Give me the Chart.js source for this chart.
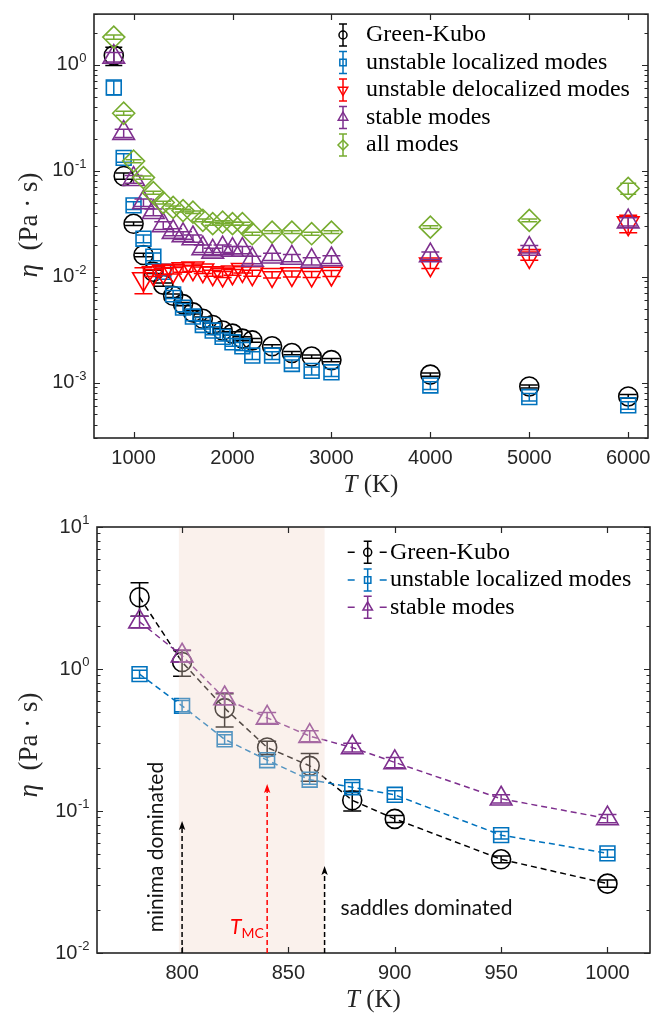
<!DOCTYPE html>
<html>
<head>
<meta charset="utf-8">
<script src="https://cdn.jsdelivr.net/npm/chart.js@4.4.1/dist/chart.umd.min.js"></script>
<style>
  html, body { margin: 0; padding: 0; background: #ffffff; }
  #page { position: relative; width: 667px; height: 1017px; overflow: hidden; }
  #c1 { position: absolute; left: 0; top: 0; }
  #c2 { position: absolute; left: 0; top: 500px; }
</style>
</head>
<body>
<div id="page">
  <canvas id="c1" width="667" height="500"></canvas>
  <canvas id="c2" width="667" height="517"></canvas>
</div>
<script>
// ---------- upper panel: viscosity vs temperature, 800 K – 6000 K ----------
const tempTop = [800, 900, 1000, 1100, 1200, 1300, 1400, 1500, 1600, 1700, 1800,
                 1900, 2000, 2100, 2200, 2400, 2600, 2800, 3000, 4000, 5000, 6000];

const etaGK  = [1.22, 0.089, 0.0315, 0.0160, 0.0111, 0.0084, 0.0066, 0.0055, 0.0046, 0.0040, 0.0035,
                0.0031, 0.0029, 0.0026, 0.0025, 0.0022, 0.0019, 0.00176, 0.00163, 0.00119, 0.00092, 0.00074];
const errGK  = [0.24, 0.006, 0.0012, 0.0006, 0.0004, 0.0003, 0.00025, 0.0002, 0.00017, 0.00015, 0.00013,
                0.00012, 0.00011, 0.0001, 0.0001, 0.00008, 0.00007, 0.00006, 0.00006, 0.00004, 0.00003, 0.00003];

const etaULM = [0.61, 0.132, 0.047, 0.0228, 0.0154, 0.0111, 0.0068, 0.0051, 0.0042, 0.0035, 0.0031,
                0.0027, 0.0024, 0.0022, 0.0018, 0.0018, 0.0015, 0.00129, 0.00125, 0.00094, 0.00073, 0.00061];
const errULM = [0.09, 0.012, 0.004, 0.0019, 0.0013, 0.0009, 0.0006, 0.00045, 0.00036, 0.0003, 0.00027,
                0.00023, 0.0002, 0.00019, 0.00015, 0.00015, 0.00013, 0.00011, 0.00011, 0.00008, 0.00006, 0.00005];

const etaUDM = [null, null, null, 0.0095, 0.0108, 0.0112, 0.0114, 0.0118, 0.0120, 0.0115, 0.0108,
                0.0105, 0.0110, 0.0116, 0.0108, 0.0104, 0.0106, 0.0105, 0.0107, 0.0131, 0.0157, 0.0320];
const errUDM = [null, null, null, 0.0026, 0.0008, 0.0008, 0.0008, 0.0008, 0.0008, 0.0008, 0.0007,
                0.0007, 0.0007, 0.0008, 0.0007, 0.0007, 0.0007, 0.0007, 0.0007, 0.0012, 0.0014, 0.0060];

const etaSM  = [1.18, 0.226, 0.083, 0.050, 0.0405, 0.0304, 0.0263, 0.0245, 0.0229, 0.0184, 0.0171,
                0.0184, 0.0178, 0.0178, 0.0144, 0.0154, 0.0150, 0.0140, 0.0145, 0.0158, 0.0182, 0.0330];
const errSM  = [0.12, 0.02, 0.007, 0.004, 0.003, 0.0025, 0.002, 0.002, 0.0018, 0.0015, 0.0014,
                0.0015, 0.0014, 0.0014, 0.0012, 0.0012, 0.0012, 0.0011, 0.0012, 0.0013, 0.0015, 0.0030];

const etaAll = [1.82, 0.348, 0.123, 0.086, 0.062, 0.050, 0.045, 0.042, 0.0405, 0.034, 0.0316,
                0.0326, 0.0316, 0.0316, 0.0254, 0.0263, 0.0263, 0.0254, 0.0263, 0.0293, 0.0339, 0.068];
const errAll = [0.08, 0.015, 0.004, 0.003, 0.002, 0.0015, 0.0013, 0.0012, 0.0012, 0.001, 0.001,
                0.001, 0.001, 0.001, 0.0008, 0.0008, 0.0008, 0.0008, 0.0008, 0.0009, 0.001, 0.008];

const xTicksTop = [1000, 2000, 3000, 4000, 5000, 6000];
const yExpTop = [-3, -2, -1, 0];

// ---------- lower panel: zoom on the crossover region ----------
const tempBot  = [780, 800, 820, 840, 860, 880, 900, 950, 1000];
const gkBot    = [3.2, 1.12, 0.53, 0.28, 0.208, 0.119, 0.088, 0.0457, 0.0308];
const gkBotErr = [0.85, 0.23, 0.14, 0.03, 0.046, 0.019, 0.005, 0.0025, 0.0018];
const ulmBot   = [0.92, 0.55, 0.32, 0.228, 0.166, 0.147, 0.130, 0.0676, 0.0503];
const ulmBotErr= [0.06, 0.05, 0.025, 0.015, 0.012, 0.012, 0.009, 0.004, 0.003];
const smBot    = [2.15, 1.24, 0.62, 0.453, 0.337, 0.28, 0.22, 0.122, 0.0885];
const smBotErr = [0.2, 0.12, 0.06, 0.04, 0.03, 0.02, 0.018, 0.008, 0.006];

const xTicksBot = [800, 850, 900, 950, 1000];
const yExpBot = [-2, -1, 0, 1];

// ---------- styling ----------
const AXIS = '#262626';
const SERIF = '"Liberation Serif", "Times New Roman", serif';
const SANS = '"Liberation Sans", Arial, sans-serif';
const HAND = 'Lato, "Open Sans", sans-serif';
const C_BLACK = '#000000', C_BLUE = '#0072BD', C_RED = '#FF0000', C_PURPLE = '#7E2F8E', C_GREEN = '#77AC30';

function series(label, temps, vals, errs, color, style, radius, rotation, order, cap, line) {
  const data = [];
  temps.forEach((t, i) => { if (vals[i] !== null) data.push({ x: t, y: vals[i], e: errs[i] }); });
  return {
    label, data, order,
    pointStyle: style, pointRadius: radius, pointRotation: rotation,
    pointBorderColor: color, pointBackgroundColor: 'rgba(0,0,0,0)', pointBorderWidth: 1.6,
    borderColor: color, backgroundColor: 'rgba(0,0,0,0)',
    showLine: !!line, borderWidth: 1.5, borderDash: line ? [6, 4] : [],
    capWidth: cap, errColor: color
  };
}

// generic marker for legend samples
function drawMark(ctx, style, x, y, r, rot) {
  ctx.beginPath();
  if (style === 'circle') ctx.arc(x, y, r, 0, Math.PI * 2);
  else if (style === 'rect') { const s = r * Math.SQRT1_2; ctx.rect(x - s, y - s, 2 * s, 2 * s); }
  else if (style === 'rectRot') { ctx.moveTo(x, y - r); ctx.lineTo(x + r, y); ctx.lineTo(x, y + r); ctx.lineTo(x - r, y); ctx.closePath(); }
  else if (style === 'triangle') {
    const d = rot ? -1 : 1;
    ctx.moveTo(x, y - d * r); ctx.lineTo(x + 0.866 * r, y + d * 0.5 * r); ctx.lineTo(x - 0.866 * r, y + d * 0.5 * r); ctx.closePath();
  }
  ctx.stroke();
}

function textRuns(ctx, runs, x, y, align) {
  let total = 0;
  runs.forEach(r => { ctx.font = r[1]; total += ctx.measureText(r[0]).width; });
  let cx = align === 'center' ? x - total / 2 : x;
  ctx.textAlign = 'left';
  runs.forEach(r => {
    ctx.font = r[1];
    ctx.fillText(r[0], cx, y + (r[2] || 0));
    cx += ctx.measureText(r[0]).width;
  });
}

// vertical error bars with caps, drawn right after each dataset
const errorBars = {
  id: 'errorBars',
  afterDatasetDraw(chart, args) {
    const ds = chart.data.datasets[args.index];
    if (!ds.capWidth) return;
    const xs = chart.scales.x, ys = chart.scales.y, ctx = chart.ctx, h = ds.capWidth / 2;
    ctx.save();
    ctx.strokeStyle = ds.errColor; ctx.lineWidth = 1.5; ctx.setLineDash([]);
    ds.data.forEach(p => {
      const px = xs.getPixelForValue(p.x);
      const y1 = ys.getPixelForValue(p.y + p.e);
      const y2 = ys.getPixelForValue(Math.max(p.y - p.e, 1e-9));
      ctx.beginPath();
      ctx.moveTo(px, y1); ctx.lineTo(px, y2);
      ctx.moveTo(px - h, y1); ctx.lineTo(px + h, y1);
      ctx.moveTo(px - h, y2); ctx.lineTo(px + h, y2);
      ctx.stroke();
    });
    ctx.restore();
  }
};

// box, inward ticks on all sides, power-of-ten labels and axis titles
function drawFrame(chart, xTicks, yExps, yTitleY, xTitleY) {
  const ctx = chart.ctx, xs = chart.scales.x, ys = chart.scales.y;
  const { left, right, top, bottom } = chart.chartArea;
  ctx.save();
  ctx.strokeStyle = AXIS; ctx.lineWidth = 1.2; ctx.setLineDash([]);
  ctx.beginPath();
  xTicks.forEach(v => {
    const px = Math.round(xs.getPixelForValue(v)) + 0.5;
    ctx.moveTo(px, bottom); ctx.lineTo(px, bottom - 6);
    ctx.moveTo(px, top); ctx.lineTo(px, top + 6);
  });
  const lo = Math.floor(Math.log10(ys.min)), hi = Math.ceil(Math.log10(ys.max));
  for (let d = lo; d <= hi; d++) {
    for (let k = 1; k <= 9; k++) {
      const v = k * Math.pow(10, d);
      if (v < ys.min * 0.999 || v > ys.max * 1.001) continue;
      const py = Math.round(ys.getPixelForValue(v)) + 0.5;
      const len = k === 1 ? 6 : 3.5;
      ctx.moveTo(left, py); ctx.lineTo(left + len, py);
      ctx.moveTo(right, py); ctx.lineTo(right - len, py);
    }
  }
  ctx.stroke();
  ctx.lineWidth = 1.6;
  ctx.strokeRect(left, top, right - left, bottom - top);

  // y tick labels 10^n
  ctx.fillStyle = AXIS;
  yExps.forEach(n => {
    const py = ys.getPixelForValue(Math.pow(10, n));
    const exp = String(n);
    ctx.font = '13px ' + SANS;
    const we = ctx.measureText(exp).width;
    const xr = left - 8 - we;
    ctx.font = '20px ' + SANS; ctx.textAlign = 'right'; ctx.textBaseline = 'middle';
    ctx.fillText('10', xr, py);
    ctx.font = '13px ' + SANS; ctx.textAlign = 'left'; ctx.textBaseline = 'alphabetic';
    ctx.fillText(exp, xr + 0.5, py - 3);
  });

  // axis titles
  ctx.fillStyle = AXIS; ctx.textBaseline = 'middle';
  textRuns(ctx, [['T', 'italic 25px ' + SERIF], [' (K)', '25px ' + SERIF]], (left + right) / 2, xTitleY, 'center');
  ctx.translate(30, yTitleY); ctx.rotate(-Math.PI / 2);
  textRuns(ctx, [['η', 'italic 27px ' + SERIF], ['  (Pa · s)', '27px ' + SERIF]], 0, 0, 'center');
  ctx.restore();
}

function legendEntry(ctx, x, y, color, style, r, rot, text, textX, dashed) {
  ctx.save();
  ctx.strokeStyle = color; ctx.lineWidth = 1.5; ctx.setLineDash([]);
  if (dashed) {
    ctx.beginPath();
    ctx.moveTo(x - 20, y); ctx.lineTo(x - 13, y);
    ctx.moveTo(x + 12, y); ctx.lineTo(x + 19, y);
    ctx.stroke();
  }
  ctx.beginPath();
  ctx.moveTo(x, y - 11); ctx.lineTo(x, y + 11);
  ctx.moveTo(x - 4, y - 11); ctx.lineTo(x + 4, y - 11);
  ctx.moveTo(x - 4, y + 11); ctx.lineTo(x + 4, y + 11);
  ctx.stroke();
  drawMark(ctx, style, x, y, r, rot);
  ctx.fillStyle = '#000000'; ctx.textBaseline = 'middle';
  ctx.font = '24px ' + SERIF; ctx.textAlign = 'left';
  ctx.fillText(text, textX, y);
  ctx.restore();
}

const topDecor = {
  id: 'topDecor',
  afterDraw(chart) {
    drawFrame(chart, xTicksTop, yExpTop, 225, 485);
    const ctx = chart.ctx;
    legendEntry(ctx, 343, 35, C_BLACK, 'circle', 4, 0, 'Green-Kubo', 366);
    legendEntry(ctx, 343, 62.5, C_BLUE, 'rect', 4.5, 0, 'unstable localized modes', 366);
    legendEntry(ctx, 343, 90, C_RED, 'triangle', 5.5, 180, 'unstable delocalized modes', 366);
    legendEntry(ctx, 343, 117.5, C_PURPLE, 'triangle', 5.5, 0, 'stable modes', 366);
    legendEntry(ctx, 343, 145, C_GREEN, 'rectRot', 5, 0, 'all modes', 366);
  }
};

// shaded crossover window and annotations of the lower panel
const shadeFrom = 798.5, shadeTo = 867;
const arrows = [
  { t: 800, tip: 0.085, color: '#000000' },
  { t: 840, tip: 0.155, color: '#FF0000' },
  { t: 867, tip: 0.041, color: '#000000' }
];

function dashedArrow(ctx, x, yBase, yTip, color) {
  ctx.save();
  ctx.strokeStyle = color; ctx.fillStyle = color; ctx.lineWidth = 1.5;
  ctx.setLineDash([5, 3]);
  ctx.beginPath(); ctx.moveTo(x, yBase); ctx.lineTo(x, yTip + 6); ctx.stroke();
  ctx.setLineDash([]);
  ctx.beginPath();
  ctx.moveTo(x, yTip); ctx.lineTo(x - 3.2, yTip + 9); ctx.lineTo(x, yTip + 7); ctx.lineTo(x + 3.2, yTip + 9);
  ctx.closePath(); ctx.fill();
  ctx.restore();
}

const botDecor = {
  id: 'botDecor',
  afterDraw(chart) {
    const ctx = chart.ctx, xs = chart.scales.x, ys = chart.scales.y;
    const { top, bottom } = chart.chartArea;
    ctx.save();
    ctx.fillStyle = 'rgba(241, 214, 200, 0.35)';
    const sx = xs.getPixelForValue(shadeFrom), ex = xs.getPixelForValue(shadeTo);
    ctx.fillRect(sx, top, ex - sx, bottom - top);
    ctx.restore();

    drawFrame(chart, xTicksBot, yExpBot, 245, 500);

    arrows.forEach(a => dashedArrow(ctx, xs.getPixelForValue(a.t), bottom, ys.getPixelForValue(a.tip), a.color));

    ctx.save();
    ctx.fillStyle = '#111111'; ctx.textBaseline = 'alphabetic';
    ctx.font = '21px ' + HAND;
    ctx.textAlign = 'left';
    ctx.fillText('saddles dominated', xs.getPixelForValue(874.5), ys.getPixelForValue(0.0185));
    ctx.save();
    ctx.translate(xs.getPixelForValue(790.8), ys.getPixelForValue(0.0557));
    ctx.rotate(-Math.PI / 2);
    ctx.textAlign = 'center';
    ctx.fillText('minima dominated', 0, 0);
    ctx.restore();
    ctx.fillStyle = '#FF0000';
    textRuns(ctx, [['T', 'italic 21px ' + HAND], ['MC', '14px ' + HAND, 4]],
             xs.getPixelForValue(822.5), ys.getPixelForValue(0.0135), 'left');
    ctx.restore();

    legendEntry(ctx, 367.7, 52.3, C_BLACK, 'circle', 4, 0, 'Green-Kubo', 390, true);
    legendEntry(ctx, 367.7, 80, C_BLUE, 'rect', 4.5, 0, 'unstable localized modes', 390, true);
    legendEntry(ctx, 367.7, 107.3, C_PURPLE, 'triangle', 5.5, 0, 'stable modes', 390, true);
  }
};

function xScale(min, max, ticks, height) {
  return {
    type: 'linear', min, max,
    grid: { display: false, drawTicks: false }, border: { display: false },
    ticks: { font: { family: SANS, size: 20 }, color: AXIS, padding: 8, maxRotation: 0, callback: v => String(v) },
    afterBuildTicks: s => { s.ticks = ticks.map(v => ({ value: v })); },
    afterFit: s => { s.height = height; }
  };
}
function yScale(min, max, width) {
  return {
    type: 'logarithmic', min, max,
    grid: { display: false, drawTicks: false }, border: { display: false },
    ticks: { display: false },
    afterFit: s => { s.width = width; }
  };
}

new Chart(document.getElementById('c1'), {
  type: 'scatter',
  data: {
    datasets: [
      series('Green-Kubo', tempTop, etaGK, errGK, C_BLACK, 'circle', 9.5, 0, 5, 17),
      series('unstable localized modes', tempTop, etaULM, errULM, C_BLUE, 'rect', 10.5, 0, 4, 15),
      series('unstable delocalized modes', tempTop, etaUDM, errUDM, C_RED, 'triangle', 12.5, 180, 3, 18),
      series('stable modes', tempTop, etaSM, errSM, C_PURPLE, 'triangle', 12.5, 0, 2, 18),
      series('all modes', tempTop, etaAll, errAll, C_GREEN, 'rectRot', 11, 0, 1, 16)
    ]
  },
  options: {
    responsive: false, animation: false, devicePixelRatio: 1,
    layout: { padding: { top: 10, right: 19, left: 0, bottom: 0 } },
    plugins: { legend: { display: false }, tooltip: { enabled: false } },
    scales: { x: xScale(600, 6200, xTicksTop, 62), y: yScale(3e-4, 3, 94) }
  },
  plugins: [errorBars, topDecor]
});

new Chart(document.getElementById('c2'), {
  type: 'scatter',
  data: {
    datasets: [
      series('Green-Kubo', tempBot, gkBot, gkBotErr, C_BLACK, 'circle', 9.5, 0, 3, 18, true),
      series('unstable localized modes', tempBot, ulmBot, ulmBotErr, C_BLUE, 'rect', 10.5, 0, 2, 15, true),
      series('stable modes', tempBot, smBot, smBotErr, C_PURPLE, 'triangle', 12.5, 0, 1, 18, true)
    ]
  },
  options: {
    responsive: false, animation: false, devicePixelRatio: 1,
    layout: { padding: { top: 27, right: 17, left: 0, bottom: 0 } },
    plugins: { legend: { display: false }, tooltip: { enabled: false } },
    scales: { x: xScale(760, 1020, xTicksBot, 64), y: yScale(0.01, 10, 97) }
  },
  plugins: [errorBars, botDecor]
});
</script>
</body>
</html>
